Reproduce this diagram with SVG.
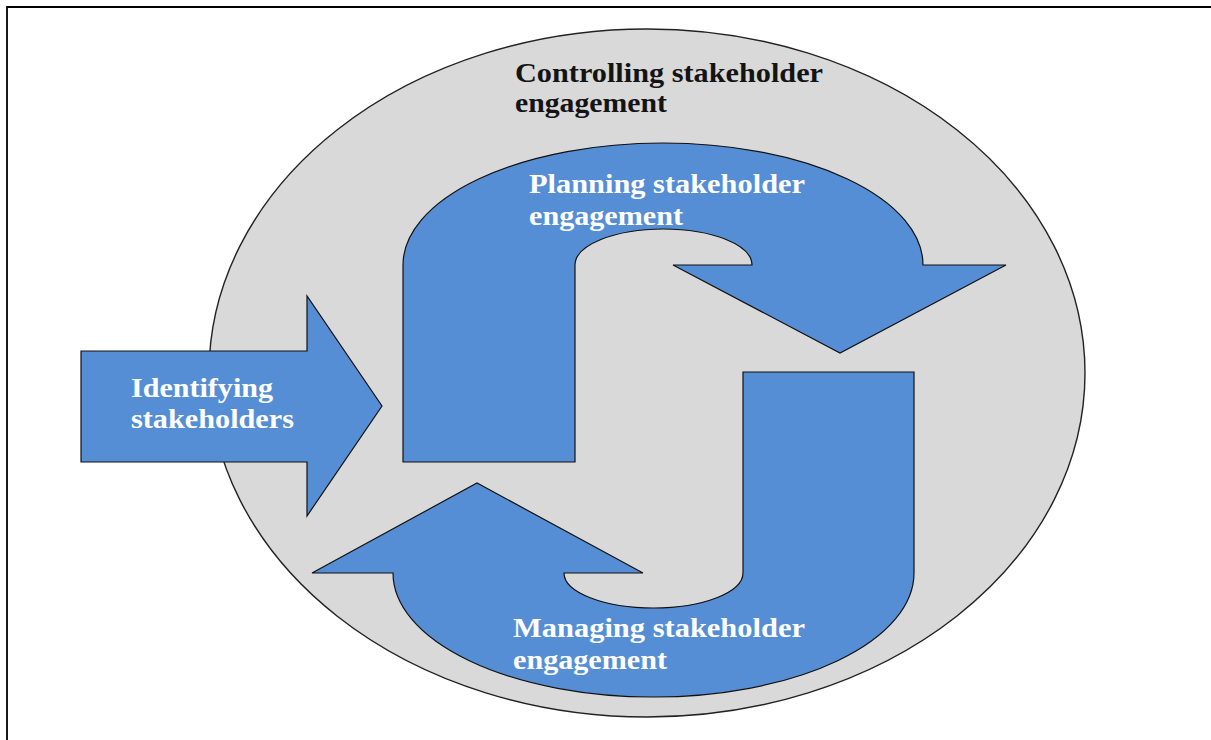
<svg xmlns="http://www.w3.org/2000/svg" width="1211" height="740" viewBox="0 0 1211 740">
  <style>
    .shape { fill: #558ed5; stroke: #111; stroke-width: 1.2; stroke-linejoin: miter; }
    .label { font-family: "Liberation Serif", "Times New Roman", serif; font-weight: bold; font-size: 28px; }
    .light { fill: #ffffff; }
    .dark { fill: #141414; }
  </style>

  <rect width="1211" height="740" fill="#ffffff"/>
  <!-- page frame -->
  <path d="M7,740 V7 H1211" fill="none" stroke="#000" stroke-width="1.8"/>

  <!-- outer process: controlling engagement -->
  <g id="controlling">
    <ellipse cx="647" cy="373" rx="438" ry="344" fill="#d9d9d9" stroke="#222" stroke-width="1.4"/>
    <text class="label dark" x="515" y="82" textLength="308" lengthAdjust="spacingAndGlyphs">Controlling stakeholder</text>
    <text class="label dark" x="515" y="112" textLength="152" lengthAdjust="spacingAndGlyphs">engagement</text>
  </g>

  <!-- entry arrow -->
  <g id="identifying">
    <path class="shape" d="M81,351 H307 V296 L382,406 L307,516 V462 H81 Z"/>
    <text class="label light" x="131" y="397" textLength="142" lengthAdjust="spacingAndGlyphs">Identifying</text>
    <text class="label light" x="131" y="428" textLength="163" lengthAdjust="spacingAndGlyphs">stakeholders</text>
  </g>

  <!-- upper U-turn arrow -->
  <g id="planning">
    <path class="shape" d="M403,462 V265 A260,122 0 0 1 923,265 H1006 L840,353 L673,265 H752 A88.5,36 0 0 0 575,265 V462 Z"/>
    <text class="label light" x="529" y="193" textLength="276" lengthAdjust="spacingAndGlyphs">Planning stakeholder</text>
    <text class="label light" x="529" y="225" textLength="154" lengthAdjust="spacingAndGlyphs">engagement</text>
  </g>

  <!-- lower U-turn arrow -->
  <g id="managing">
    <path class="shape" d="M914,372 V573 A260.5,124 0 0 1 393,573 H312 L477,483 L643,573 H564 A89.5,35 0 0 0 743,573 V372 Z"/>
    <text class="label light" x="513" y="637" textLength="292" lengthAdjust="spacingAndGlyphs">Managing stakeholder</text>
    <text class="label light" x="513" y="669" textLength="154" lengthAdjust="spacingAndGlyphs">engagement</text>
  </g>
</svg>
